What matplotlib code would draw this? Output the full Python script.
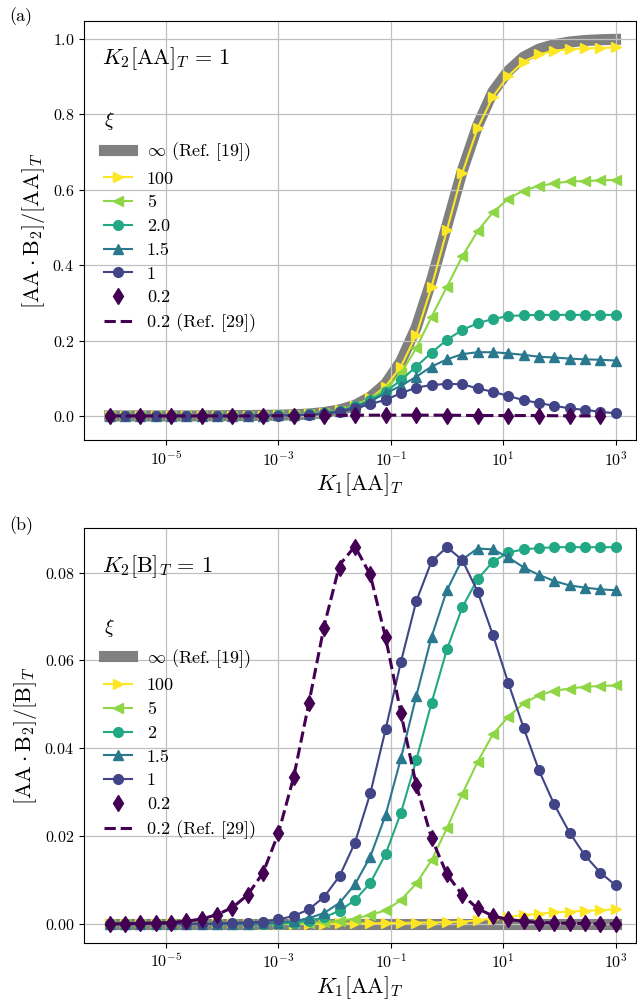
import numpy as np
import matplotlib
matplotlib.use('Agg')
import matplotlib.pyplot as plt

plt.rcParams['font.family'] = 'serif'
plt.rcParams['font.serif'] = ['cmr10']
plt.rcParams['mathtext.fontset'] = 'cm'
plt.rcParams['axes.formatter.use_mathtext'] = True

# sampling grid of K1[AA]_T (34 log-spaced points, 1e-6 .. 1e3)
x = np.logspace(-6, 3, 34)

# ---- panel (a): [AA.B2]/[AA]_T, K2[AA]_T = 1
a_inf = [0.0, 0.0, 0.0, 0.0, 0.0, 0.0, 0.0, 0.0005, 0.0008, 0.001, 0.0015, 0.002,
         0.003, 0.005, 0.009, 0.016, 0.028, 0.05, 0.085, 0.145, 0.235, 0.36, 0.505,
         0.65, 0.77, 0.86, 0.915, 0.952, 0.973, 0.985, 0.992, 0.996, 0.998, 0.999]
a_100 = [0.0, 0.0, 0.0, 0.0, 0.0, 0.0, 0.0, 0.0, 0.0, 0.001, 0.001, 0.002,
         0.003, 0.005, 0.008, 0.015, 0.027, 0.047, 0.078, 0.131, 0.215, 0.343, 0.493,
         0.644, 0.763, 0.847, 0.902, 0.940, 0.959, 0.969, 0.973, 0.975, 0.976, 0.978]
a_5 = [0.0, 0.0, 0.0, 0.0, 0.0, 0.0, 0.0, 0.0, 0.0, 0.001, 0.001, 0.002,
       0.003, 0.005, 0.008, 0.014, 0.026, 0.045, 0.073, 0.113, 0.180, 0.263, 0.343,
       0.423, 0.490, 0.540, 0.576, 0.598, 0.610, 0.617, 0.622, 0.623, 0.625, 0.626]
a_2 = [0.0, 0.0, 0.0, 0.0, 0.0, 0.0, 0.0, 0.0, 0.0, 0.001, 0.001, 0.002,
       0.002, 0.004, 0.008, 0.014, 0.025, 0.042, 0.064, 0.095, 0.131, 0.168, 0.202,
       0.228, 0.246, 0.257, 0.265, 0.267, 0.268, 0.268, 0.268, 0.268, 0.268, 0.268]
a_15 = [0.0, 0.0, 0.0, 0.0, 0.0, 0.0, 0.0, 0.0, 0.0, 0.001, 0.001, 0.002,
        0.002, 0.004, 0.007, 0.013, 0.023, 0.039, 0.060, 0.080, 0.104, 0.131, 0.150,
        0.164, 0.169, 0.169, 0.166, 0.162, 0.157, 0.155, 0.152, 0.150, 0.149, 0.147]
a_1 = [0.0, 0.0, 0.0, 0.0, 0.0, 0.0, 0.0, 0.0, 0.0, 0.0, 0.001, 0.001,
       0.001, 0.003, 0.006, 0.011, 0.020, 0.031, 0.043, 0.060, 0.075, 0.082, 0.085,
       0.084, 0.073, 0.064, 0.053, 0.042, 0.034, 0.027, 0.020, 0.016, 0.011, 0.007]
# xi = 0.2 only sampled on every other grid point in (a)
a_02 = [0.0, 0.0, 0.0, 0.0, 0.0, 0.0, 0.001, 0.001, 0.002, 0.002, 0.002, 0.001,
        0.001, 0.001, 0.001, 0.0, 0.0]
a_02_ref = [0.0, 0.0, 0.0, 0.0, 0.0, 0.0, 0.001, 0.001, 0.002, 0.002, 0.002, 0.002,
            0.001, 0.001, 0.001, 0.0, 0.0]

# ---- panel (b): [AA.B2]/[B]_T, K2[B]_T = 1
b_inf = [0.0] * 34
b_100 = [0.0, 0.0, 0.0, 0.0, 0.0, 0.0, 0.0, 0.0, 0.0, 0.0, 0.0, 0.0,
         0.0, 0.0, 0.0, 0.0001, 0.0001, 0.0001, 0.0002, 0.0002, 0.0003, 0.0003, 0.0004,
         0.0005, 0.0008, 0.0012, 0.0016, 0.0020, 0.0023, 0.0026, 0.0028, 0.0030, 0.0031, 0.0033]
b_5 = [0.0, 0.0, 0.0, 0.0, 0.0, 0.0, 0.0, 0.0, 0.0, 0.0, 0.0, 0.0,
       0.0001, 0.0002, 0.0004, 0.0007, 0.0012, 0.0020, 0.0031, 0.0054, 0.0092, 0.0145, 0.0218,
       0.0296, 0.0369, 0.0432, 0.0472, 0.0502, 0.0521, 0.0531, 0.0536, 0.0540, 0.0542, 0.0543]
b_2 = [0.0, 0.0, 0.0, 0.0, 0.0, 0.0, 0.0, 0.0, 0.0, 0.0, 0.0, 0.0001,
       0.0003, 0.0007, 0.0015, 0.0030, 0.0054, 0.0093, 0.0159, 0.0253, 0.0373, 0.0504, 0.0625,
       0.0721, 0.0785, 0.0825, 0.0846, 0.0853, 0.0856, 0.0858, 0.0858, 0.0858, 0.0858, 0.0858]
b_15 = [0.0, 0.0, 0.0, 0.0, 0.0, 0.0, 0.0, 0.0, 0.0, 0.0, 0.0001, 0.0003,
        0.0006, 0.0013, 0.0025, 0.0048, 0.0090, 0.0153, 0.0248, 0.0377, 0.0519, 0.0654, 0.0760,
        0.0830, 0.0855, 0.0853, 0.0835, 0.0812, 0.0795, 0.0781, 0.0771, 0.0766, 0.0762, 0.0760]
b_1 = [0.0, 0.0, 0.0, 0.0, 0.0, 0.0, 0.0, 0.0001, 0.0002, 0.0003, 0.0005, 0.0010,
       0.0018, 0.0033, 0.0062, 0.0109, 0.0185, 0.0297, 0.0443, 0.0597, 0.0735, 0.0826, 0.0858,
       0.0829, 0.0757, 0.0658, 0.0549, 0.0447, 0.0350, 0.0272, 0.0208, 0.0156, 0.0117, 0.0088]
b_02 = [0.0, 0.0, 0.0001, 0.0002, 0.0003, 0.0006, 0.0011, 0.0021, 0.0037, 0.0066, 0.0116, 0.0206,
        0.0334, 0.0502, 0.0675, 0.0810, 0.0859, 0.0798, 0.0654, 0.0480, 0.0316, 0.0195, 0.0113,
        0.0066, 0.0035, 0.0018, 0.0010, 0.0006, 0.0003, 0.0002, 0.0001, 0.0001, 0.0, 0.0]
b_02_ref = [0.0, 0.0, 0.0001, 0.0002, 0.0003, 0.0006, 0.0011, 0.0021, 0.0037, 0.0066, 0.0116, 0.0206,
            0.0334, 0.0504, 0.0680, 0.0818, 0.0860, 0.0795, 0.0652, 0.0480, 0.0316, 0.0195, 0.0113,
            0.0066, 0.0035, 0.0018, 0.0010, 0.0006, 0.0003, 0.0002, 0.0001, 0.0001, 0.0, 0.0]

xi_labels_a = ['100', '5', '2.0', '1.5', '1']
xi_labels_b = ['100', '5', '2', '1.5', '1']
markers = ['>', '<', 'o', '^', 'o']
colors = [plt.cm.viridis(v) for v in [1.0, 0.83, 0.6, 0.4, 0.2]]
c_02 = plt.cm.viridis(0.0)


def draw_panel(ax, inf, curves, labels, d02, x02, ref02, xref):
    ax.plot(x, inf, color='gray', lw=8, label=r'$\infty$ (Ref. [19])', zorder=1)
    for y, lab, m, c in zip(curves, labels, markers, colors):
        ax.plot(x, y, color=c, marker=m, ms=7, lw=1.5, label=lab, zorder=2)
    ax.plot(x02, d02, ls='none', marker='d', ms=8, color=c_02, label='0.2', zorder=3)
    ax.plot(xref, ref02, ls='--', lw=2.2, color=c_02, label='0.2 (Ref. [29])', zorder=3)
    ax.set_xscale('log')
    ax.set_xticks([1e-5, 1e-3, 1e-1, 1e1, 1e3])
    ax.xaxis.set_minor_locator(matplotlib.ticker.NullLocator())
    ax.set_xlim(10 ** -6.457, 10 ** 3.365)
    ax.grid(True, color='#c0c0c0', lw=0.9)
    ax.tick_params(labelsize=11.5)
    ax.set_xlabel(r'$K_1[\mathrm{AA}]_T$', fontsize=16, labelpad=2)
    ax.legend(loc='upper left', bbox_to_anchor=(0.006, 0.826), frameon=False,
              fontsize=13, title=r'$\xi$', title_fontsize=14, handlelength=1.6,
              labelspacing=0.45, alignment='left')


fig = plt.figure(figsize=(6.37, 10.01), dpi=100)
ax_a = fig.add_axes([0.1319, 0.5604, 0.8666, 0.4189])
ax_b = fig.add_axes([0.1319, 0.0582, 0.8666, 0.4140])

draw_panel(ax_a, a_inf, [a_100, a_5, a_2, a_15, a_1], xi_labels_a,
           a_02, x[::2], a_02_ref, x[::2])
ax_a.set_ylim(-0.064, 1.0485)
ax_a.set_ylabel(r'$[\mathrm{AA}\cdot\mathrm{B}_2]/[\mathrm{AA}]_T$', fontsize=16)
ax_a.text(0.032, 0.91, r'$K_2[\mathrm{AA}]_T\,=\,1$', transform=ax_a.transAxes,
          fontsize=16, va='center')

draw_panel(ax_b, b_inf, [b_100, b_5, b_2, b_15, b_1], xi_labels_b,
           b_02, x, b_02_ref, x)
ax_b.set_ylim(-0.0043, 0.0901)
ax_b.set_ylabel(r'$[\mathrm{AA}\cdot\mathrm{B}_2]/[\mathrm{B}]_T$', fontsize=16)
ax_b.text(0.032, 0.907, r'$K_2[\mathrm{B}]_T\,=\,1$', transform=ax_b.transAxes,
          fontsize=16, va='center')

fig.text(0.033, 1 - 17 / 1001, '(a)', fontsize=13, ha='center', va='center')
fig.text(0.033, 1 - 526 / 1001, '(b)', fontsize=13, ha='center', va='center')

fig.savefig('out.png', dpi=100)
